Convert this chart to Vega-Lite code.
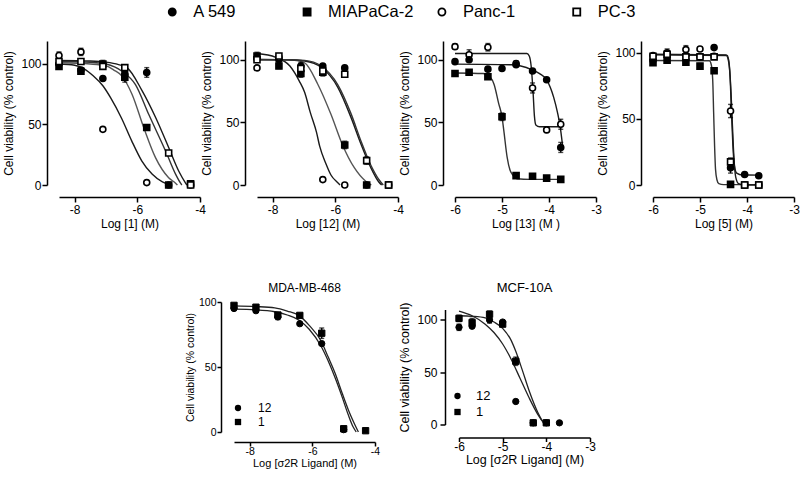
{
"$schema": "https://vega.github.io/schema/vega-lite/v6.json",
"padding": {"left": 2, "top": 3, "right": 5, "bottom": 5},
"background": "white",
"config": {
  "view": {"stroke": null},
  "font": "Liberation Sans",
  "axis": {"domainColor": "black", "domainWidth": 1.5, "tickColor": "black", "tickWidth": 1.5, "tickSize": 5, "labelColor": "black", "titleColor": "black", "labelFont": "Liberation Sans", "titleFont": "Liberation Sans", "labelFontSize": 12, "titleFontSize": 12, "titleFontWeight": "normal", "grid": false, "labelOverlap": false, "labelFlush": false},
  "axisX": {"offset": 12, "labelPadding": 2, "titlePadding": 3},
  "axisY": {"offset": 12, "labelPadding": 1, "titlePadding": 5},
  "title": {"font": "Liberation Sans", "fontWeight": "normal", "color": "black"}
},
"datasets": {
  "leg": [{"s": "A 549"}, {"s": "MIAPaCa-2"}, {"s": "Panc-1"}, {"s": "PC-3"}],
  "pts": [
    {"p":"1","s":"A 549","x":-8.5,"v":100,"e":2},{"p":"1","s":"A 549","x":-7.8,"v":95,"e":0},{"p":"1","s":"A 549","x":-7.1,"v":88,"e":0},{"p":"1","s":"A 549","x":-6.4,"v":92,"e":3},{"p":"1","s":"A 549","x":-5.7,"v":93,"e":4},{"p":"1","s":"A 549","x":-5.0,"v":0,"e":0},{"p":"1","s":"A 549","x":-4.3,"v":0,"e":0},
    {"p":"1","s":"MIAPaCa-2","x":-8.5,"v":98,"e":2},{"p":"1","s":"MIAPaCa-2","x":-7.8,"v":94,"e":2},{"p":"1","s":"MIAPaCa-2","x":-7.1,"v":100,"e":3},{"p":"1","s":"MIAPaCa-2","x":-6.4,"v":89,"e":4},{"p":"1","s":"MIAPaCa-2","x":-5.7,"v":47.5,"e":0},{"p":"1","s":"MIAPaCa-2","x":-5.0,"v":0,"e":0},{"p":"1","s":"MIAPaCa-2","x":-4.3,"v":1,"e":0},
    {"p":"1","s":"Panc-1","x":-8.5,"v":107,"e":3},{"p":"1","s":"Panc-1","x":-7.8,"v":110,"e":3},{"p":"1","s":"Panc-1","x":-7.1,"v":46,"e":0},{"p":"1","s":"Panc-1","x":-5.7,"v":2,"e":0},
    {"p":"1","s":"PC-3","x":-8.5,"v":102,"e":0},{"p":"1","s":"PC-3","x":-7.8,"v":102,"e":0},{"p":"1","s":"PC-3","x":-7.1,"v":98,"e":2},{"p":"1","s":"PC-3","x":-6.4,"v":97,"e":2},{"p":"1","s":"PC-3","x":-5.0,"v":26.5,"e":0},{"p":"1","s":"PC-3","x":-4.3,"v":0,"e":0},

    {"p":"12","s":"A 549","x":-8.5,"v":101,"e":0},{"p":"12","s":"A 549","x":-7.8,"v":100,"e":0},{"p":"12","s":"A 549","x":-7.1,"v":95,"e":3},{"p":"12","s":"A 549","x":-6.4,"v":95,"e":0},{"p":"12","s":"A 549","x":-5.7,"v":93.5,"e":0},{"p":"12","s":"A 549","x":-5.0,"v":0,"e":0},{"p":"12","s":"A 549","x":-4.3,"v":0,"e":0},
    {"p":"12","s":"MIAPaCa-2","x":-8.5,"v":103,"e":3},{"p":"12","s":"MIAPaCa-2","x":-7.8,"v":95,"e":2},{"p":"12","s":"MIAPaCa-2","x":-7.1,"v":89,"e":3},{"p":"12","s":"MIAPaCa-2","x":-6.4,"v":90,"e":3},{"p":"12","s":"MIAPaCa-2","x":-5.7,"v":32,"e":3},{"p":"12","s":"MIAPaCa-2","x":-5.0,"v":0,"e":0},{"p":"12","s":"MIAPaCa-2","x":-4.3,"v":0,"e":0},
    {"p":"12","s":"Panc-1","x":-8.5,"v":93.5,"e":0},{"p":"12","s":"Panc-1","x":-7.8,"v":102,"e":2},{"p":"12","s":"Panc-1","x":-6.4,"v":4.3,"e":0},{"p":"12","s":"Panc-1","x":-5.7,"v":0,"e":0},
    {"p":"12","s":"PC-3","x":-8.5,"v":100,"e":0},{"p":"12","s":"PC-3","x":-7.8,"v":103,"e":2},{"p":"12","s":"PC-3","x":-7.1,"v":93,"e":0},{"p":"12","s":"PC-3","x":-6.4,"v":91,"e":0},{"p":"12","s":"PC-3","x":-5.7,"v":88.5,"e":0},{"p":"12","s":"PC-3","x":-5.0,"v":19.5,"e":3},{"p":"12","s":"PC-3","x":-4.3,"v":0,"e":0},

    {"p":"13","s":"Panc-1","x":-6,"v":110.5,"e":2},{"p":"13","s":"Panc-1","x":-5.7,"v":104,"e":4},{"p":"13","s":"Panc-1","x":-5.3,"v":110,"e":3},{"p":"13","s":"Panc-1","x":-4.7,"v":97,"e":2},{"p":"13","s":"Panc-1","x":-4.35,"v":77.5,"e":4},{"p":"13","s":"Panc-1","x":-4.05,"v":44,"e":2},{"p":"13","s":"Panc-1","x":-3.75,"v":48.5,"e":4},
    {"p":"13","s":"A 549","x":-6,"v":98.5,"e":0},{"p":"13","s":"A 549","x":-5.7,"v":100,"e":0},{"p":"13","s":"A 549","x":-5.3,"v":92.5,"e":0},{"p":"13","s":"A 549","x":-5.0,"v":93,"e":0},{"p":"13","s":"A 549","x":-4.7,"v":96,"e":0},{"p":"13","s":"A 549","x":-4.35,"v":91,"e":0},{"p":"13","s":"A 549","x":-4.05,"v":84,"e":0},{"p":"13","s":"A 549","x":-3.75,"v":30,"e":4},
    {"p":"13","s":"MIAPaCa-2","x":-6,"v":89,"e":0},{"p":"13","s":"MIAPaCa-2","x":-5.7,"v":90,"e":2},{"p":"13","s":"MIAPaCa-2","x":-5.3,"v":86.5,"e":2},{"p":"13","s":"MIAPaCa-2","x":-5.0,"v":54.5,"e":3},{"p":"13","s":"MIAPaCa-2","x":-4.7,"v":7.5,"e":0},{"p":"13","s":"MIAPaCa-2","x":-4.35,"v":7,"e":0},{"p":"13","s":"MIAPaCa-2","x":-4.05,"v":5.5,"e":0},{"p":"13","s":"MIAPaCa-2","x":-3.75,"v":4.5,"e":0},

    {"p":"5","s":"Panc-1","x":-6,"v":94.5,"e":0},{"p":"5","s":"Panc-1","x":-5.7,"v":100,"e":3},{"p":"5","s":"Panc-1","x":-5.3,"v":102.5,"e":3},{"p":"5","s":"Panc-1","x":-5.0,"v":103,"e":0},{"p":"5","s":"Panc-1","x":-4.7,"v":97.5,"e":0},{"p":"5","s":"Panc-1","x":-4.35,"v":56,"e":5},{"p":"5","s":"Panc-1","x":-4.05,"v":0,"e":0},{"p":"5","s":"Panc-1","x":-3.75,"v":0,"e":0},
    {"p":"5","s":"A 549","x":-6,"v":98,"e":0},{"p":"5","s":"A 549","x":-5.7,"v":99,"e":0},{"p":"5","s":"A 549","x":-5.3,"v":98,"e":0},{"p":"5","s":"A 549","x":-5.0,"v":97,"e":0},{"p":"5","s":"A 549","x":-4.7,"v":104,"e":0},{"p":"5","s":"A 549","x":-4.35,"v":13,"e":4},{"p":"5","s":"A 549","x":-4.05,"v":8,"e":0},{"p":"5","s":"A 549","x":-3.75,"v":7,"e":0},
    {"p":"5","s":"MIAPaCa-2","x":-6,"v":92.5,"e":0},{"p":"5","s":"MIAPaCa-2","x":-5.7,"v":94.5,"e":0},{"p":"5","s":"MIAPaCa-2","x":-5.3,"v":93,"e":0},{"p":"5","s":"MIAPaCa-2","x":-5.0,"v":90,"e":2},{"p":"5","s":"MIAPaCa-2","x":-4.7,"v":86.5,"e":0},{"p":"5","s":"MIAPaCa-2","x":-4.35,"v":0.5,"e":0},{"p":"5","s":"MIAPaCa-2","x":-4.05,"v":0,"e":0},{"p":"5","s":"MIAPaCa-2","x":-3.75,"v":0,"e":0},
    {"p":"5","s":"PC-3","x":-6,"v":97.5,"e":0},{"p":"5","s":"PC-3","x":-5.7,"v":99,"e":0},{"p":"5","s":"PC-3","x":-5.3,"v":97,"e":0},{"p":"5","s":"PC-3","x":-5.0,"v":97,"e":0},{"p":"5","s":"PC-3","x":-4.7,"v":97,"e":0},{"p":"5","s":"PC-3","x":-4.35,"v":17.5,"e":3},{"p":"5","s":"PC-3","x":-4.05,"v":0,"e":0},{"p":"5","s":"PC-3","x":-3.75,"v":0,"e":0},

    {"p":"MDA","s":"12","x":-8.5,"v":95,"e":0},{"p":"MDA","s":"12","x":-7.8,"v":93.3,"e":0},{"p":"MDA","s":"12","x":-7.1,"v":88.5,"e":2},{"p":"MDA","s":"12","x":-6.4,"v":83.3,"e":0},{"p":"MDA","s":"12","x":-5.7,"v":68,"e":0},{"p":"MDA","s":"12","x":-5.0,"v":1.8,"e":0},
    {"p":"MDA","s":"1","x":-8.5,"v":97.4,"e":0},{"p":"MDA","s":"1","x":-7.8,"v":96,"e":0},{"p":"MDA","s":"1","x":-7.1,"v":90,"e":0},{"p":"MDA","s":"1","x":-6.4,"v":89.7,"e":0},{"p":"MDA","s":"1","x":-5.7,"v":76,"e":4},{"p":"MDA","s":"1","x":-5.0,"v":2.5,"e":2},{"p":"MDA","s":"1","x":-4.3,"v":1,"e":0},

    {"p":"MCF","s":"12","x":-6,"v":93,"e":3},{"p":"MCF","s":"12","x":-5.7,"v":94,"e":0},{"p":"MCF","s":"12","x":-5.3,"v":100,"e":3},{"p":"MCF","s":"12","x":-5.0,"v":98,"e":0},{"p":"MCF","s":"12","x":-4.7,"v":22,"e":0},{"p":"MCF","s":"12","x":-4.3,"v":1.6,"e":0},{"p":"MCF","s":"12","x":-4.0,"v":1.6,"e":0},{"p":"MCF","s":"12","x":-3.7,"v":1.6,"e":0},
    {"p":"MCF","s":"1","x":-6,"v":101.5,"e":3},{"p":"MCF","s":"1","x":-5.7,"v":97.5,"e":4},{"p":"MCF","s":"1","x":-5.3,"v":105.5,"e":3},{"p":"MCF","s":"1","x":-5.0,"v":96,"e":2},{"p":"MCF","s":"1","x":-4.7,"v":60.5,"e":4},{"p":"MCF","s":"1","x":-4.3,"v":1.6,"e":0},{"p":"MCF","s":"1","x":-4.0,"v":1.6,"e":0}
  ],
  "fit": [
    {"p":"1","s":"Panc-1","x":-8.5,"v":100},{"p":"1","s":"Panc-1","x":-8.0,"v":99},{"p":"1","s":"Panc-1","x":-7.7,"v":96},{"p":"1","s":"Panc-1","x":-7.4,"v":90},{"p":"1","s":"Panc-1","x":-7.1,"v":82},{"p":"1","s":"Panc-1","x":-6.85,"v":72},{"p":"1","s":"Panc-1","x":-6.5,"v":55},{"p":"1","s":"Panc-1","x":-6.18,"v":36.5},{"p":"1","s":"Panc-1","x":-5.86,"v":20},{"p":"1","s":"Panc-1","x":-5.53,"v":9},{"p":"1","s":"Panc-1","x":-5.2,"v":2.5},{"p":"1","s":"Panc-1","x":-4.95,"v":0},
    {"p":"1","s":"MIAPaCa-2","x":-8.5,"v":101},{"p":"1","s":"MIAPaCa-2","x":-7.5,"v":100},{"p":"1","s":"MIAPaCa-2","x":-7.0,"v":98.5},{"p":"1","s":"MIAPaCa-2","x":-6.75,"v":95},{"p":"1","s":"MIAPaCa-2","x":-6.49,"v":90},{"p":"1","s":"MIAPaCa-2","x":-6.17,"v":75},{"p":"1","s":"MIAPaCa-2","x":-5.79,"v":47},{"p":"1","s":"MIAPaCa-2","x":-5.42,"v":22.6},{"p":"1","s":"MIAPaCa-2","x":-5.0,"v":6},{"p":"1","s":"MIAPaCa-2","x":-4.78,"v":1.5},{"p":"1","s":"MIAPaCa-2","x":-4.72,"v":0},
    {"p":"1","s":"PC-3","x":-8.5,"v":102},{"p":"1","s":"PC-3","x":-7.5,"v":101.5},{"p":"1","s":"PC-3","x":-7.0,"v":100},{"p":"1","s":"PC-3","x":-6.49,"v":94},{"p":"1","s":"PC-3","x":-6.06,"v":83},{"p":"1","s":"PC-3","x":-5.63,"v":58},{"p":"1","s":"PC-3","x":-5.08,"v":27},{"p":"1","s":"PC-3","x":-4.78,"v":9},{"p":"1","s":"PC-3","x":-4.62,"v":1.5},{"p":"1","s":"PC-3","x":-4.58,"v":0},
    {"p":"1","s":"A 549","x":-8.5,"v":103},{"p":"1","s":"A 549","x":-7.5,"v":102.5},{"p":"1","s":"A 549","x":-7.0,"v":101.5},{"p":"1","s":"A 549","x":-6.6,"v":99.5},{"p":"1","s":"A 549","x":-6.33,"v":97},{"p":"1","s":"A 549","x":-5.85,"v":78},{"p":"1","s":"A 549","x":-5.42,"v":56},{"p":"1","s":"A 549","x":-5.0,"v":31},{"p":"1","s":"A 549","x":-4.68,"v":11.6},{"p":"1","s":"A 549","x":-4.47,"v":2},{"p":"1","s":"A 549","x":-4.42,"v":0},

    {"p":"12","s":"Panc-1","x":-8.5,"v":105},{"p":"12","s":"Panc-1","x":-7.9,"v":102},{"p":"12","s":"Panc-1","x":-7.45,"v":95},{"p":"12","s":"Panc-1","x":-7.15,"v":83},{"p":"12","s":"Panc-1","x":-6.98,"v":74},{"p":"12","s":"Panc-1","x":-6.8,"v":58},{"p":"12","s":"Panc-1","x":-6.6,"v":42},{"p":"12","s":"Panc-1","x":-6.5,"v":31},{"p":"12","s":"Panc-1","x":-6.3,"v":17},{"p":"12","s":"Panc-1","x":-6.14,"v":8},{"p":"12","s":"Panc-1","x":-5.93,"v":2},{"p":"12","s":"Panc-1","x":-5.85,"v":0},
    {"p":"12","s":"MIAPaCa-2","x":-8.5,"v":100.5},{"p":"12","s":"MIAPaCa-2","x":-7.8,"v":100},{"p":"12","s":"MIAPaCa-2","x":-7.3,"v":99.5},{"p":"12","s":"MIAPaCa-2","x":-6.98,"v":97.5},{"p":"12","s":"MIAPaCa-2","x":-6.56,"v":80.5},{"p":"12","s":"MIAPaCa-2","x":-6.14,"v":56.5},{"p":"12","s":"MIAPaCa-2","x":-5.77,"v":32},{"p":"12","s":"MIAPaCa-2","x":-5.4,"v":14},{"p":"12","s":"MIAPaCa-2","x":-5.03,"v":3},{"p":"12","s":"MIAPaCa-2","x":-4.85,"v":0},
    {"p":"12","s":"A 549","x":-8.5,"v":100},{"p":"12","s":"A 549","x":-7.5,"v":100},{"p":"12","s":"A 549","x":-6.98,"v":99},{"p":"12","s":"A 549","x":-6.45,"v":94},{"p":"12","s":"A 549","x":-5.92,"v":78},{"p":"12","s":"A 549","x":-5.5,"v":54},{"p":"12","s":"A 549","x":-5.18,"v":32.6},{"p":"12","s":"A 549","x":-4.87,"v":14},{"p":"12","s":"A 549","x":-4.6,"v":2},{"p":"12","s":"A 549","x":-4.52,"v":0},
    {"p":"12","s":"PC-3","x":-8.5,"v":100},{"p":"12","s":"PC-3","x":-7.5,"v":100},{"p":"12","s":"PC-3","x":-6.98,"v":99.5},{"p":"12","s":"PC-3","x":-6.45,"v":95},{"p":"12","s":"PC-3","x":-5.92,"v":80},{"p":"12","s":"PC-3","x":-5.5,"v":57},{"p":"12","s":"PC-3","x":-5.18,"v":35},{"p":"12","s":"PC-3","x":-4.87,"v":16},{"p":"12","s":"PC-3","x":-4.6,"v":4},{"p":"12","s":"PC-3","x":-4.47,"v":0},

    {"p":"13","s":"Panc-1","x":-6,"v":105},{"p":"13","s":"Panc-1","x":-4.47,"v":105},{"p":"13","s":"Panc-1","x":-4.42,"v":103},{"p":"13","s":"Panc-1","x":-4.38,"v":95},{"p":"13","s":"Panc-1","x":-4.34,"v":75},{"p":"13","s":"Panc-1","x":-4.31,"v":55},{"p":"13","s":"Panc-1","x":-4.28,"v":48},{"p":"13","s":"Panc-1","x":-4.2,"v":46.5},{"p":"13","s":"Panc-1","x":-3.72,"v":46.5},
    {"p":"13","s":"A 549","x":-6,"v":96.5},{"p":"13","s":"A 549","x":-4.8,"v":96},{"p":"13","s":"A 549","x":-4.6,"v":95},{"p":"13","s":"A 549","x":-4.36,"v":92},{"p":"13","s":"A 549","x":-4.2,"v":89},{"p":"13","s":"A 549","x":-4.05,"v":84},{"p":"13","s":"A 549","x":-3.9,"v":70},{"p":"13","s":"A 549","x":-3.82,"v":58},{"p":"13","s":"A 549","x":-3.76,"v":46},{"p":"13","s":"A 549","x":-3.71,"v":31},
    {"p":"13","s":"MIAPaCa-2","x":-6,"v":89.5},{"p":"13","s":"MIAPaCa-2","x":-5.4,"v":89},{"p":"13","s":"MIAPaCa-2","x":-5.25,"v":86},{"p":"13","s":"MIAPaCa-2","x":-5.17,"v":80.5},{"p":"13","s":"MIAPaCa-2","x":-5.07,"v":65},{"p":"13","s":"MIAPaCa-2","x":-5.0,"v":54.5},{"p":"13","s":"MIAPaCa-2","x":-4.96,"v":43},{"p":"13","s":"MIAPaCa-2","x":-4.89,"v":22},{"p":"13","s":"MIAPaCa-2","x":-4.83,"v":12},{"p":"13","s":"MIAPaCa-2","x":-4.78,"v":8.5},{"p":"13","s":"MIAPaCa-2","x":-4.68,"v":5},{"p":"13","s":"MIAPaCa-2","x":-4.4,"v":4.5},{"p":"13","s":"MIAPaCa-2","x":-3.72,"v":4.5},

    {"p":"5","s":"MIAPaCa-2","x":-6,"v":94.2},{"p":"5","s":"MIAPaCa-2","x":-4.8,"v":94},{"p":"5","s":"MIAPaCa-2","x":-4.76,"v":91},{"p":"5","s":"MIAPaCa-2","x":-4.73,"v":80},{"p":"5","s":"MIAPaCa-2","x":-4.71,"v":55},{"p":"5","s":"MIAPaCa-2","x":-4.69,"v":30},{"p":"5","s":"MIAPaCa-2","x":-4.67,"v":12},{"p":"5","s":"MIAPaCa-2","x":-4.64,"v":4},{"p":"5","s":"MIAPaCa-2","x":-4.6,"v":1},{"p":"5","s":"MIAPaCa-2","x":-4.5,"v":0.3},{"p":"5","s":"MIAPaCa-2","x":-3.72,"v":0.3},
    {"p":"5","s":"A 549","x":-6,"v":99},{"p":"5","s":"A 549","x":-4.45,"v":98.5},{"p":"5","s":"A 549","x":-4.4,"v":95},{"p":"5","s":"A 549","x":-4.36,"v":82},{"p":"5","s":"A 549","x":-4.33,"v":55},{"p":"5","s":"A 549","x":-4.3,"v":30},{"p":"5","s":"A 549","x":-4.27,"v":15},{"p":"5","s":"A 549","x":-4.22,"v":9},{"p":"5","s":"A 549","x":-4.1,"v":7.6},{"p":"5","s":"A 549","x":-3.72,"v":7.5},
    {"p":"5","s":"Panc-1","x":-6,"v":98.5},{"p":"5","s":"Panc-1","x":-4.42,"v":98},{"p":"5","s":"Panc-1","x":-4.38,"v":92},{"p":"5","s":"Panc-1","x":-4.34,"v":70},{"p":"5","s":"Panc-1","x":-4.31,"v":45},{"p":"5","s":"Panc-1","x":-4.28,"v":22},{"p":"5","s":"Panc-1","x":-4.24,"v":6},{"p":"5","s":"Panc-1","x":-4.18,"v":1},{"p":"5","s":"Panc-1","x":-4.05,"v":0},{"p":"5","s":"Panc-1","x":-3.72,"v":0},

    {"p":"MDA","s":"12","x":-8.5,"v":94.5},{"p":"MDA","s":"12","x":-7.8,"v":94},{"p":"MDA","s":"12","x":-7.2,"v":92.5},{"p":"MDA","s":"12","x":-6.8,"v":90},{"p":"MDA","s":"12","x":-6.42,"v":86},{"p":"MDA","s":"12","x":-6.1,"v":79},{"p":"MDA","s":"12","x":-5.72,"v":66},{"p":"MDA","s":"12","x":-5.5,"v":55},{"p":"MDA","s":"12","x":-5.27,"v":41.5},{"p":"MDA","s":"12","x":-5.05,"v":27},{"p":"MDA","s":"12","x":-4.85,"v":13},{"p":"MDA","s":"12","x":-4.7,"v":4},{"p":"MDA","s":"12","x":-4.6,"v":0},
    {"p":"MDA","s":"1","x":-8.5,"v":97},{"p":"MDA","s":"1","x":-7.8,"v":96.5},{"p":"MDA","s":"1","x":-7.2,"v":95.5},{"p":"MDA","s":"1","x":-6.8,"v":93},{"p":"MDA","s":"1","x":-6.42,"v":89.5},{"p":"MDA","s":"1","x":-6.1,"v":82},{"p":"MDA","s":"1","x":-5.72,"v":70},{"p":"MDA","s":"1","x":-5.5,"v":58},{"p":"MDA","s":"1","x":-5.27,"v":45},{"p":"MDA","s":"1","x":-5.05,"v":30},{"p":"MDA","s":"1","x":-4.85,"v":17},{"p":"MDA","s":"1","x":-4.65,"v":6},{"p":"MDA","s":"1","x":-4.53,"v":0},

    {"p":"MCF","s":"12","x":-6,"v":108.5},{"p":"MCF","s":"12","x":-5.7,"v":104},{"p":"MCF","s":"12","x":-5.4,"v":96},{"p":"MCF","s":"12","x":-5.2,"v":88},{"p":"MCF","s":"12","x":-5.0,"v":77},{"p":"MCF","s":"12","x":-4.8,"v":62},{"p":"MCF","s":"12","x":-4.6,"v":44},{"p":"MCF","s":"12","x":-4.4,"v":26},{"p":"MCF","s":"12","x":-4.2,"v":10},{"p":"MCF","s":"12","x":-4.05,"v":1},{"p":"MCF","s":"12","x":-4.03,"v":0},
    {"p":"MCF","s":"1","x":-6,"v":104},{"p":"MCF","s":"1","x":-5.7,"v":103.5},{"p":"MCF","s":"1","x":-5.4,"v":102},{"p":"MCF","s":"1","x":-5.2,"v":98},{"p":"MCF","s":"1","x":-5.0,"v":92},{"p":"MCF","s":"1","x":-4.8,"v":80},{"p":"MCF","s":"1","x":-4.7,"v":70},{"p":"MCF","s":"1","x":-4.55,"v":52},{"p":"MCF","s":"1","x":-4.4,"v":33},{"p":"MCF","s":"1","x":-4.2,"v":12},{"p":"MCF","s":"1","x":-4.05,"v":1},{"p":"MCF","s":"1","x":-4.03,"v":0}
  ]
},
"spacing": 19,
"resolve": {"scale": {"x": "independent", "y": "independent", "shape": "independent", "fill": "independent", "color": "independent"}, "legend": {"shape": "independent", "fill": "independent", "color": "independent"}},
"vconcat": [
  {
    "width": 631, "height": 18,
    "data": {"name": "leg"},
    "layer": [
      {"mark": {"type": "point", "filled": true, "stroke": "black", "strokeWidth": 1.8, "size": 50, "opacity": 1},
       "encoding": {
         "x": {"field": "s", "type": "nominal", "sort": ["A 549", "MIAPaCa-2", "Panc-1", "PC-3"], "scale": {"type": "point", "padding": 0.84}, "axis": null},
         "shape": {"field": "s", "type": "nominal", "scale": {"domain": ["A 549", "MIAPaCa-2", "Panc-1", "PC-3"], "range": ["circle", "square", "circle", "square"]}, "legend": null},
         "fill": {"field": "s", "type": "nominal", "scale": {"domain": ["A 549", "MIAPaCa-2", "Panc-1", "PC-3"], "range": ["black", "black", "white", "white"]}, "legend": null}
       }},
      {"mark": {"type": "text", "align": "left", "dx": 21, "fontSize": 16.5, "font": "Liberation Sans", "color": "black"},
       "encoding": {
         "x": {"field": "s", "type": "nominal", "sort": ["A 549", "MIAPaCa-2", "Panc-1", "PC-3"], "scale": {"type": "point", "padding": 0.84}, "axis": null},
         "text": {"field": "s"}
       }}
    ]
  },
  {
    "bounds": "flush",
    "spacing": 57,
    "resolve": {"scale": {"x": "independent", "y": "independent", "shape": "independent", "fill": "independent", "color": "independent"}, "legend": {"shape": "independent", "fill": "independent", "color": "independent"}},
    "hconcat": [
      {
        "width": 141, "height": 144,
        "layer": [
          {"data": {"name": "fit"}, "transform": [{"filter": "datum.p === '1'"}],
           "mark": {"type": "line", "interpolate": "monotone", "strokeWidth": 1.4},
           "encoding": {
             "x": {"field": "x", "type": "quantitative", "scale": {"domain": [-8.5, -4], "nice": false, "zero": false}, "axis": {"title": "Log [1] (M)", "values": [-8, -7, -6, -5, -4], "labelExpr": "'' + datum.value"}},
             "y": {"field": "v", "type": "quantitative", "scale": {"domain": [0, 119], "nice": false, "zero": false}, "axis": {"title": "Cell viability (% control)", "values": [0, 25, 50, 75, 100]}},
             "color": {"field": "s", "type": "nominal", "scale": {"domain": ["A 549", "MIAPaCa-2", "Panc-1", "PC-3"], "range": ["#1a1a1a", "#555555", "#1a1a1a", "#333333"]}, "legend": null}
           }},
          {"data": {"name": "pts"}, "transform": [{"filter": "datum.p === '1' && datum.e > 0"}],
           "mark": {"type": "errorbar", "ticks": true, "color": "black", "thickness": 1.4},
           "encoding": {"x": {"field": "x", "type": "quantitative", "title": "Log [1] (M)"}, "y": {"field": "v", "type": "quantitative", "title": "Cell viability (% control)"}, "yError": {"field": "e"}}},
          {"data": {"name": "pts"}, "transform": [{"filter": "datum.p === '1'"}],
           "mark": {"type": "point", "filled": true, "stroke": "black", "strokeWidth": 1.6, "size": 36, "opacity": 1},
           "encoding": {
             "x": {"field": "x", "type": "quantitative", "title": "Log [1] (M)"},
             "y": {"field": "v", "type": "quantitative", "title": "Cell viability (% control)"},
             "shape": {"field": "s", "type": "nominal", "scale": {"domain": ["A 549", "MIAPaCa-2", "Panc-1", "PC-3"], "range": ["circle", "square", "circle", "square"]}, "legend": null},
             "fill": {"field": "s", "type": "nominal", "scale": {"domain": ["A 549", "MIAPaCa-2", "Panc-1", "PC-3"], "range": ["black", "black", "white", "white"]}, "legend": null}
           }}
        ]
      },
      {
        "width": 141, "height": 144,
        "layer": [
          {"data": {"name": "fit"}, "transform": [{"filter": "datum.p === '12'"}],
           "mark": {"type": "line", "interpolate": "monotone", "strokeWidth": 1.4},
           "encoding": {
             "x": {"field": "x", "type": "quantitative", "scale": {"domain": [-8.5, -4], "nice": false, "zero": false}, "axis": {"title": "Log [12] (M)", "values": [-8, -7, -6, -5, -4], "labelExpr": "'' + datum.value"}},
             "y": {"field": "v", "type": "quantitative", "scale": {"domain": [0, 115], "nice": false, "zero": false}, "axis": {"title": "Cell viability (% control)", "values": [0, 25, 50, 75, 100]}},
             "color": {"field": "s", "type": "nominal", "scale": {"domain": ["A 549", "MIAPaCa-2", "Panc-1", "PC-3"], "range": ["#1a1a1a", "#555555", "#1a1a1a", "#333333"]}, "legend": null}
           }},
          {"data": {"name": "pts"}, "transform": [{"filter": "datum.p === '12' && datum.e > 0"}],
           "mark": {"type": "errorbar", "ticks": true, "color": "black", "thickness": 1.4},
           "encoding": {"x": {"field": "x", "type": "quantitative", "title": "Log [12] (M)"}, "y": {"field": "v", "type": "quantitative", "title": "Cell viability (% control)"}, "yError": {"field": "e"}}},
          {"data": {"name": "pts"}, "transform": [{"filter": "datum.p === '12'"}],
           "mark": {"type": "point", "filled": true, "stroke": "black", "strokeWidth": 1.6, "size": 36, "opacity": 1},
           "encoding": {
             "x": {"field": "x", "type": "quantitative", "title": "Log [12] (M)"},
             "y": {"field": "v", "type": "quantitative", "title": "Cell viability (% control)"},
             "shape": {"field": "s", "type": "nominal", "scale": {"domain": ["A 549", "MIAPaCa-2", "Panc-1", "PC-3"], "range": ["circle", "square", "circle", "square"]}, "legend": null},
             "fill": {"field": "s", "type": "nominal", "scale": {"domain": ["A 549", "MIAPaCa-2", "Panc-1", "PC-3"], "range": ["black", "black", "white", "white"]}, "legend": null}
           }}
        ]
      },
      {
        "width": 141, "height": 144,
        "layer": [
          {"data": {"name": "fit"}, "transform": [{"filter": "datum.p === '13'"}],
           "mark": {"type": "line", "interpolate": "monotone", "strokeWidth": 1.4},
           "encoding": {
             "x": {"field": "x", "type": "quantitative", "scale": {"domain": [-6, -3], "nice": false, "zero": false}, "axis": {"title": "Log [13] (M )", "values": [-6, -5, -4, -3], "labelExpr": "'' + datum.value"}},
             "y": {"field": "v", "type": "quantitative", "scale": {"domain": [0, 115], "nice": false, "zero": false}, "axis": {"title": "Cell viability (% control)", "values": [0, 25, 50, 75, 100]}},
             "color": {"field": "s", "type": "nominal", "scale": {"domain": ["A 549", "MIAPaCa-2", "Panc-1", "PC-3"], "range": ["#1a1a1a", "#333333", "#1a1a1a", "#333333"]}, "legend": null}
           }},
          {"data": {"name": "pts"}, "transform": [{"filter": "datum.p === '13' && datum.e > 0"}],
           "mark": {"type": "errorbar", "ticks": true, "color": "black", "thickness": 1.4},
           "encoding": {"x": {"field": "x", "type": "quantitative", "title": "Log [13] (M )"}, "y": {"field": "v", "type": "quantitative", "title": "Cell viability (% control)"}, "yError": {"field": "e"}}},
          {"data": {"name": "pts"}, "transform": [{"filter": "datum.p === '13'"}],
           "mark": {"type": "point", "filled": true, "stroke": "black", "strokeWidth": 1.6, "size": 36, "opacity": 1},
           "encoding": {
             "x": {"field": "x", "type": "quantitative", "title": "Log [13] (M )"},
             "y": {"field": "v", "type": "quantitative", "title": "Cell viability (% control)"},
             "shape": {"field": "s", "type": "nominal", "scale": {"domain": ["A 549", "MIAPaCa-2", "Panc-1", "PC-3"], "range": ["circle", "square", "circle", "square"]}, "legend": null},
             "fill": {"field": "s", "type": "nominal", "scale": {"domain": ["A 549", "MIAPaCa-2", "Panc-1", "PC-3"], "range": ["black", "black", "white", "white"]}, "legend": null}
           }}
        ]
      },
      {
        "width": 141, "height": 144,
        "layer": [
          {"data": {"name": "fit"}, "transform": [{"filter": "datum.p === '5'"}],
           "mark": {"type": "line", "interpolate": "monotone", "strokeWidth": 1.4},
           "encoding": {
             "x": {"field": "x", "type": "quantitative", "scale": {"domain": [-6, -3], "nice": false, "zero": false}, "axis": {"title": "Log [5] (M)", "values": [-6, -5, -4, -3], "labelExpr": "'' + datum.value"}},
             "y": {"field": "v", "type": "quantitative", "scale": {"domain": [0, 109], "nice": false, "zero": false}, "axis": {"title": "Cell viability (% control)", "values": [0, 25, 50, 75, 100]}},
             "color": {"field": "s", "type": "nominal", "scale": {"domain": ["A 549", "MIAPaCa-2", "Panc-1", "PC-3"], "range": ["#1a1a1a", "#333333", "#1a1a1a", "#333333"]}, "legend": null}
           }},
          {"data": {"name": "pts"}, "transform": [{"filter": "datum.p === '5' && datum.e > 0"}],
           "mark": {"type": "errorbar", "ticks": true, "color": "black", "thickness": 1.4},
           "encoding": {"x": {"field": "x", "type": "quantitative", "title": "Log [5] (M)"}, "y": {"field": "v", "type": "quantitative", "title": "Cell viability (% control)"}, "yError": {"field": "e"}}},
          {"data": {"name": "pts"}, "transform": [{"filter": "datum.p === '5'"}],
           "mark": {"type": "point", "filled": true, "stroke": "black", "strokeWidth": 1.6, "size": 36, "opacity": 1},
           "encoding": {
             "x": {"field": "x", "type": "quantitative", "title": "Log [5] (M)"},
             "y": {"field": "v", "type": "quantitative", "title": "Cell viability (% control)"},
             "shape": {"field": "s", "type": "nominal", "scale": {"domain": ["A 549", "MIAPaCa-2", "Panc-1", "PC-3"], "range": ["circle", "square", "circle", "square"]}, "legend": null},
             "fill": {"field": "s", "type": "nominal", "scale": {"domain": ["A 549", "MIAPaCa-2", "Panc-1", "PC-3"], "range": ["black", "black", "white", "white"]}, "legend": null}
           }}
        ]
      }
    ]
  },
  {"width": 10, "height": 14, "data": {"values": []}, "mark": "point"},
  {
    "bounds": "flush",
    "spacing": 84,
    "center": true,
    "resolve": {"scale": {"x": "independent", "y": "independent", "shape": "independent", "fill": "independent", "color": "independent"}, "legend": {"shape": "independent", "fill": "independent", "color": "independent"}},
    "hconcat": [
      {"width": 91, "height": 10, "data": {"values": []}, "mark": "point"},
      {
        "width": 141, "height": 130,
        "title": {"text": "MDA-MB-468", "fontSize": 12, "offset": 2, "frame": "group"},
        "layer": [
          {"data": {"name": "fit"}, "transform": [{"filter": "datum.p === 'MDA'"}],
           "mark": {"type": "line", "interpolate": "monotone", "strokeWidth": 1.3, "color": "#222222"},
           "encoding": {
             "x": {"field": "x", "type": "quantitative", "scale": {"domain": [-8.5, -4], "nice": false, "zero": false}, "axis": {"title": "Log [σ2R Ligand] (M)", "values": [-8, -7, -6, -5, -4], "labelExpr": "'' + datum.value", "offset": 10, "tickSize": 4, "labelPadding": 0, "titlePadding": 1, "labelFontSize": 10.5, "titleFontSize": 11}},
             "y": {"field": "v", "type": "quantitative", "scale": {"domain": [0, 100], "nice": false, "zero": false}, "axis": {"title": "Cell viability (% control)", "values": [0, 25, 50, 75, 100], "offset": 13, "tickSize": 4, "labelFontSize": 10.5, "titleFontSize": 10.5, "titlePadding": 3}},
             "detail": {"field": "s", "type": "nominal"}
           }},
          {"data": {"name": "pts"}, "transform": [{"filter": "datum.p === 'MDA' && datum.e > 0"}],
           "mark": {"type": "errorbar", "ticks": true, "color": "black", "thickness": 1.4},
           "encoding": {"x": {"field": "x", "type": "quantitative", "title": "Log [σ2R Ligand] (M)"}, "y": {"field": "v", "type": "quantitative", "title": "Cell viability (% control)"}, "yError": {"field": "e"}}},
          {"data": {"name": "pts"}, "transform": [{"filter": "datum.p === 'MDA'"}],
           "mark": {"type": "point", "filled": true, "color": "black", "stroke": "black", "strokeWidth": 1, "size": 40, "opacity": 1},
           "encoding": {
             "x": {"field": "x", "type": "quantitative", "title": "Log [σ2R Ligand] (M)"},
             "y": {"field": "v", "type": "quantitative", "title": "Cell viability (% control)"},
             "shape": {"field": "s", "type": "nominal", "scale": {"domain": ["12", "1"], "range": ["circle", "square"]},
               "legend": {"orient": "none", "legendX": -2, "legendY": 100, "title": null, "labelFontSize": 12, "labelFont": "Liberation Sans", "labelColor": "black", "symbolSize": 40, "symbolFillColor": "black", "symbolStrokeColor": "black", "rowPadding": 0, "labelOffset": 14, "padding": 0}}
           }}
        ]
      },
      {
        "width": 131, "height": 115,
        "title": {"text": "MCF-10A", "fontSize": 13, "offset": 7.5, "frame": "group"},
        "layer": [
          {"data": {"name": "fit"}, "transform": [{"filter": "datum.p === 'MCF'"}],
           "mark": {"type": "line", "interpolate": "monotone", "strokeWidth": 1.3, "color": "#222222"},
           "encoding": {
             "x": {"field": "x", "type": "quantitative", "scale": {"domain": [-6, -3], "nice": false, "zero": false}, "axis": {"title": "Log [σ2R Ligand] (M)", "values": [-6, -5, -4, -3], "labelExpr": "'' + datum.value", "offset": 13, "tickSize": 4, "labelPadding": 0, "titlePadding": 1, "labelFontSize": 12, "titleFontSize": 12.5}},
             "y": {"field": "v", "type": "quantitative", "scale": {"domain": [0, 110], "nice": false, "zero": false}, "axis": {"title": "Cell viability (% control)", "values": [0, 25, 50, 75, 100], "offset": 14, "tickSize": 5, "labelPadding": 3, "labelFontSize": 12, "titleFontSize": 12.5, "titlePadding": 5}},
             "detail": {"field": "s", "type": "nominal"}
           }},
          {"data": {"name": "pts"}, "transform": [{"filter": "datum.p === 'MCF' && datum.e > 0"}],
           "mark": {"type": "errorbar", "ticks": true, "color": "black", "thickness": 1.4},
           "encoding": {"x": {"field": "x", "type": "quantitative", "title": "Log [σ2R Ligand] (M)"}, "y": {"field": "v", "type": "quantitative", "title": "Cell viability (% control)"}, "yError": {"field": "e"}}},
          {"data": {"name": "pts"}, "transform": [{"filter": "datum.p === 'MCF'"}],
           "mark": {"type": "point", "filled": true, "color": "black", "stroke": "black", "strokeWidth": 1, "size": 40, "opacity": 1},
           "encoding": {
             "x": {"field": "x", "type": "quantitative", "title": "Log [σ2R Ligand] (M)"},
             "y": {"field": "v", "type": "quantitative", "title": "Cell viability (% control)"},
             "shape": {"field": "s", "type": "nominal", "scale": {"domain": ["12", "1"], "range": ["circle", "square"]},
               "legend": {"orient": "none", "legendX": -8, "legendY": 80, "title": null, "labelFontSize": 13, "labelFont": "Liberation Sans", "labelColor": "black", "symbolSize": 40, "symbolFillColor": "black", "symbolStrokeColor": "black", "rowPadding": 2, "labelOffset": 12, "padding": 0}}
           }}
        ]
      }
    ]
  }
]
}
